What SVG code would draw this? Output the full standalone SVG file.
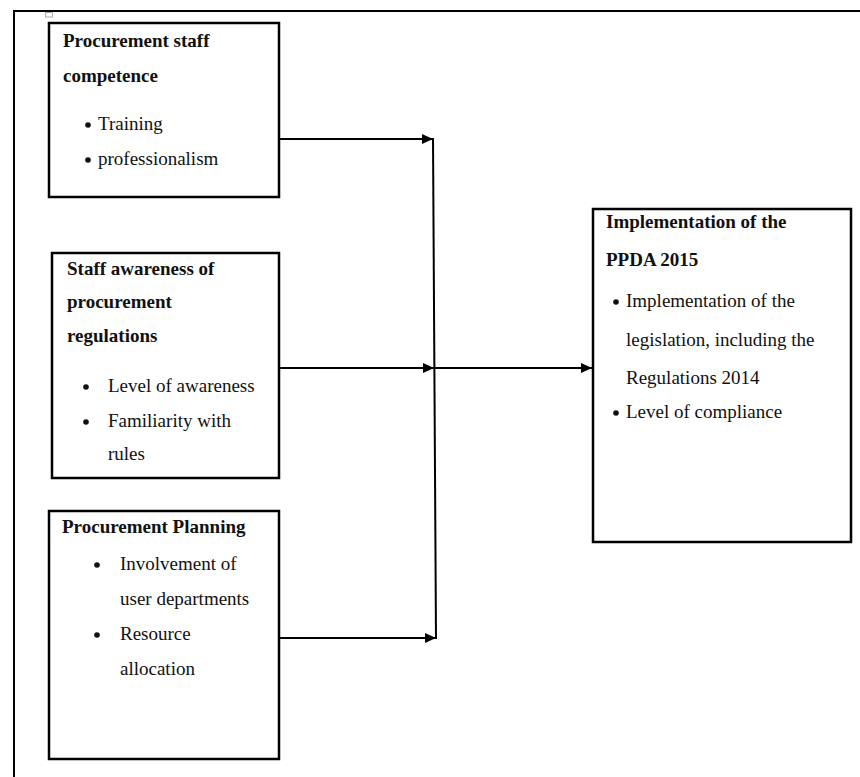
<svg xmlns="http://www.w3.org/2000/svg" width="860" height="777" viewBox="0 0 860 777">
<style>
.box{fill:#fff;stroke:#000;stroke-width:2.5}
.t{font-family:"Liberation Serif","Times New Roman",serif;font-size:19px;fill:#111}
.b{font-weight:bold}
.bul{fill:#111}
.conn{stroke:#000;stroke-width:2;fill:none}
</style>
<defs>
<marker id="ah" markerUnits="userSpaceOnUse" markerWidth="12" markerHeight="10" refX="11" refY="5" orient="auto">
<path d="M0,0 L11,5 L0,10 Z" fill="#000"/>
</marker>
</defs>
<rect width="860" height="777" fill="#fff"/>
<path d="M14,777 V11 H860" fill="none" stroke="#000" stroke-width="2"/>
<rect x="45.5" y="12.5" width="7" height="4.5" fill="none" stroke="#aaa" stroke-width="1"/>

<g id="n1">
<rect class="box" x="49" y="23" width="230" height="174"/>
<text class="t b" x="63" y="47">Procurement staff</text>
<text class="t b" x="63" y="82">competence</text>
<circle class="bul" cx="88" cy="125" r="2.8"/>
<text class="t" x="98" y="130">Training</text>
<circle class="bul" cx="88" cy="160" r="2.8"/>
<text class="t" x="98" y="165">professionalism</text>
</g>

<g id="n2">
<rect class="box" x="52" y="253" width="227" height="225"/>
<text class="t b" x="67" y="275">Staff awareness of</text>
<text class="t b" x="67" y="308">procurement</text>
<text class="t b" x="67" y="342">regulations</text>
<circle class="bul" cx="86" cy="387" r="2.8"/>
<text class="t" x="108" y="392">Level of awareness</text>
<circle class="bul" cx="86" cy="422" r="2.8"/>
<text class="t" x="108" y="427">Familiarity with</text>
<text class="t" x="108" y="460">rules</text>
</g>

<g id="n3">
<rect class="box" x="49" y="511" width="230" height="248"/>
<text class="t b" x="62" y="533">Procurement Planning</text>
<circle class="bul" cx="97" cy="565" r="2.8"/>
<text class="t" x="120" y="570">Involvement of</text>
<text class="t" x="120" y="605">user departments</text>
<circle class="bul" cx="97" cy="635" r="2.8"/>
<text class="t" x="120" y="640">Resource</text>
<text class="t" x="120" y="675">allocation</text>
</g>

<g id="n4">
<rect class="box" x="593" y="209" width="258" height="333"/>
<text class="t b" x="606" y="228">Implementation of the</text>
<text class="t b" x="606" y="266">PPDA 2015</text>
<circle class="bul" cx="616" cy="302" r="2.8"/>
<text class="t" x="626" y="307">Implementation of the</text>
<text class="t" x="626" y="346">legislation, including the</text>
<text class="t" x="626" y="384">Regulations 2014</text>
<circle class="bul" cx="616" cy="413" r="2.8"/>
<text class="t" x="626" y="418">Level of compliance</text>
</g>

<g id="connectors">
<line class="conn" x1="280" y1="139" x2="433" y2="139" marker-end="url(#ah)"/>
<line class="conn" x1="280" y1="368" x2="434" y2="368" marker-end="url(#ah)"/>
<line class="conn" x1="280" y1="638" x2="436" y2="638" marker-end="url(#ah)"/>
<line class="conn" x1="433" y1="138" x2="436" y2="639"/>
<line class="conn" x1="434" y1="368" x2="592" y2="368" marker-end="url(#ah)"/>
</g>
</svg>
